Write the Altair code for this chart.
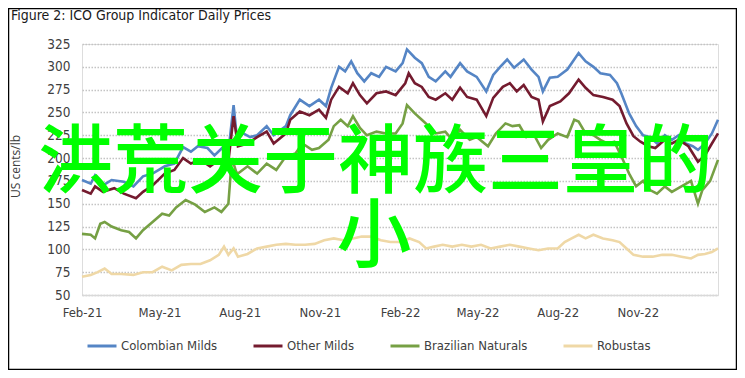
import altair as alt
import pandas as pd

# ---------------- data ----------------
series_names = ["Colombian Milds", "Other Milds", "Brazilian Naturals", "Robustas"]
series_colors = ["#5585C5", "#741B2F", "#76A044", "#EFD8A6"]

# day offsets from 2021-02-01
col_days = [0, 10, 15, 24, 34, 48, 59, 70, 81, 95, 106, 116, 125, 133, 144, 152, 163, 168, 174, 178,
            185, 193, 201, 212, 220, 234, 239, 250, 261, 272, 280, 286, 295, 302, 309, 316, 324, 332,
            341, 349, 360, 368, 373, 382, 390, 398, 406, 417, 423, 434, 442, 453, 464, 472, 480, 488,
            496, 507, 516, 524, 529, 537, 546, 557, 562, 570, 578, 587, 595, 606, 614, 619, 628, 636,
            644, 652, 660, 669, 677, 685, 693, 701, 707, 715, 723, 730]
col_vals = [176, 172, 181, 170, 176, 174, 169, 180, 183, 191, 194, 212, 207, 213, 211, 203, 213, 207, 258, 220,
            227, 223, 225, 235, 225, 235, 247, 264, 257, 264, 257, 277, 300, 295, 306, 293, 284, 293,
            289, 300, 295, 304, 319, 310, 304, 289, 284, 295, 289, 304, 295, 289, 273, 291, 300, 308,
            299, 308, 297, 289, 273, 288, 289, 297, 304, 315, 306, 300, 293, 291, 282, 271, 249, 235,
            225, 223, 216, 225, 220, 225, 216, 213, 209, 216, 227, 242]

oth_days = [0, 10, 15, 24, 37, 48, 62, 70, 81, 95, 106, 116, 125, 136, 147, 157, 168, 174, 179, 190,
            201, 212, 220, 234, 239, 250, 261, 272, 280, 286, 295, 305, 311, 319, 327, 338, 349, 360,
            371, 375, 382, 390, 398, 406, 417, 425, 434, 442, 453, 464, 472, 483, 491, 499, 507, 516,
            524, 529, 537, 549, 559, 570, 578, 587, 598, 609, 617, 625, 633, 641, 650, 658, 669, 677,
            685, 696, 707, 715, 723, 730]
oth_vals = [165, 161, 169, 163, 167, 161, 156, 163, 170, 183, 187, 200, 194, 198, 191, 198, 196, 246, 213, 216,
            223, 229, 216, 227, 242, 251, 247, 253, 244, 264, 278, 271, 282, 269, 260, 271, 273, 269,
            282, 293, 282, 278, 267, 264, 271, 264, 277, 267, 264, 246, 266, 278, 282, 273, 280, 267,
            264, 240, 257, 262, 271, 286, 277, 269, 267, 264, 257, 238, 224, 218, 213, 211, 220, 216,
            220, 213, 196, 203, 216, 227]

bra_days = [0, 10, 15, 21, 26, 34, 45, 54, 62, 70, 81, 92, 100, 108, 119, 130, 141, 152, 160, 168,
            172, 177, 179, 190, 201, 212, 223, 234, 245, 253, 264, 272, 283, 289, 297, 305, 311, 319,
            327, 338, 349, 360, 368, 373, 382, 390, 398, 406, 417, 425, 434, 445, 453, 466, 475, 486,
            494, 502, 510, 518, 527, 535, 546, 557, 565, 570, 578, 587, 595, 603, 611, 619, 628, 636,
            644, 652, 660, 669, 677, 688, 699, 707, 712, 721, 730]
bra_vals = [117, 116, 112, 128, 130, 125, 121, 119, 112, 121, 130, 139, 137, 146, 154, 149, 141, 146, 141, 150,
            200, 185, 183, 191, 183, 194, 187, 202, 205, 216, 209, 211, 220, 235, 242, 235, 246, 233,
            225, 229, 227, 227, 238, 258, 249, 242, 235, 227, 229, 220, 231, 220, 223, 213, 227, 238,
            235, 236, 223, 227, 211, 220, 227, 223, 242, 240, 227, 225, 220, 216, 218, 202, 183, 169,
            175, 165, 161, 169, 163, 169, 175, 150, 165, 175, 198]

rob_days = [0, 10, 18, 26, 34, 45, 59, 70, 81, 92, 103, 114, 125, 136, 147, 157, 163, 168, 174, 179,
            190, 201, 212, 223, 234, 245, 256, 267, 278, 289, 300, 311, 321, 332, 343, 354, 365, 376,
            387, 395, 404, 414, 425, 436, 447, 458, 469, 480, 491, 502, 513, 524, 535, 546, 554, 562,
            570, 578, 587, 598, 609, 617, 625, 633, 644, 655, 666, 677, 688, 699, 707, 715, 723, 730]
rob_vals = [70, 72, 75, 79, 73, 73, 72, 75, 75, 81, 77, 83, 84, 84, 88, 94, 103, 94, 101, 92,
            95, 101, 103, 105, 106, 105, 105, 106, 110, 112, 110, 112, 114, 114, 110, 108, 108, 112,
            108, 101, 103, 105, 103, 105, 103, 105, 101, 103, 105, 103, 101, 99, 101, 101, 108, 112,
            116, 112, 116, 112, 110, 108, 101, 94, 92, 92, 94, 94, 92, 90, 94, 95, 97, 101]

y_ticks = [50, 75, 100, 125, 150, 175, 200, 225, 250, 275, 300, 325]
x_ticks = ["2021-02-01", "2021-05-01", "2021-08-01", "2021-11-01",
           "2022-02-01", "2022-05-01", "2022-08-01", "2022-11-01"]

title_text = "Figure 2: ICO Group Indicator Daily Prices"
overlay_line1 = "洪荒关于神族三皇的"
overlay_line2 = "小"

# ---------------- build table ----------------
start = pd.Timestamp("2021-02-01")
frames = []
for name, days, vals in [
    (series_names[0], col_days, col_vals),
    (series_names[1], oth_days, oth_vals),
    (series_names[2], bra_days, bra_vals),
    (series_names[3], rob_days, rob_vals),
]:
    frames.append(pd.DataFrame({
        "date": [(start + pd.Timedelta(days=d)).strftime("%Y-%m-%d") for d in days],
        "price": vals,
        "series": name,
    }))
df = pd.concat(frames, ignore_index=True)

NARROW = "DejaVu Sans Condensed, sans-serif"
W, H = 636, 251

x_enc = alt.X(
    "date:T",
    scale=alt.Scale(domain=["2021-02-01", "2023-02-01"]),
    axis=alt.Axis(
        values=x_ticks, format="%b-%y", title=None, grid=False, ticks=False,
        domain=True, domainColor="#d9d9d9", domainWidth=1.5,
        labelPadding=11, labelFontSize=13, labelFont=NARROW, labelColor="#404040",
        labelAngle=0, labelFlush=False, labelOverlap=False,
    ),
)
y_enc = alt.Y(
    "price:Q",
    scale=alt.Scale(domain=[50, 325], nice=False, zero=False),
    axis=alt.Axis(
        values=y_ticks, title="US cents/lb", grid=True, gridDash=[1.5, 1.5],
        gridColor="#c4c4c4", gridWidth=1.5, domain=False, ticks=False,
        labelPadding=12, labelFontSize=13.5, labelFont=NARROW, labelColor="#404040",
        labelFlush=False, labelOverlap=False,
        titleFont="Open Sans", titleFontSize=12, titleFontWeight="normal",
        titleColor="#404040", titleAngle=-90, titleX=-67, titleY=122,
        titleAlign="center", titleBaseline="middle",
    ),
)

lines = alt.Chart(df).mark_line(strokeWidth=2.6, interpolate="linear").encode(
    x=x_enc,
    y=y_enc,
    color=alt.Color(
        "series:N",
        sort=series_names,
        scale=alt.Scale(domain=series_names, range=series_colors),
        legend=alt.Legend(
            orient="none", legendX=4, legendY=286, direction="horizontal", title=None,
            symbolType="stroke", symbolSize=841, symbolStrokeWidth=3,
            labelFont=NARROW, labelFontSize=13, labelColor="#404040",
            labelOffset=3, columnPadding=29, labelLimit=300,
        ),
    ),
)

one = pd.DataFrame({"k": [0]})

overlay1 = alt.Chart(one).mark_text(
    font="Noto Sans CJK SC", fontSize=75, fontWeight=500, color="#00FF00",
    align="center", baseline="middle",
).encode(x=alt.value(293.5), y=alt.value(120), text=alt.value(overlay_line1))

overlay2 = alt.Chart(one).mark_text(
    font="Noto Sans CJK SC", fontSize=75, fontWeight=500, color="#00FF00",
    align="center", baseline="middle",
).encode(x=alt.value(292), y=alt.value(194), text=alt.value(overlay_line2))

title = alt.Chart(one).mark_text(
    font=NARROW, fontSize=14, color="#1a1a1a", align="left", baseline="middle",
).encode(x=alt.value(-71), y=alt.value(-28), text=alt.value(title_text))

frame = alt.Chart(one).mark_rect(filled=False, stroke="#000000", strokeWidth=1.5).encode(
    x=alt.value(-73.5), x2=alt.value(W + 18.5), y=alt.value(-35.5), y2=alt.value(H + 74.5),
)

chart = alt.layer(lines, overlay1, overlay2, title, frame).properties(
    width=W, height=H,
    autosize=alt.AutoSizeParams(type="none"),
    padding={"left": 74, "top": 36, "right": 19, "bottom": 75},
).configure_view(stroke=None).configure(background="white")

chart.save("out.html", embed_options={"renderer": "svg", "actions": False})
